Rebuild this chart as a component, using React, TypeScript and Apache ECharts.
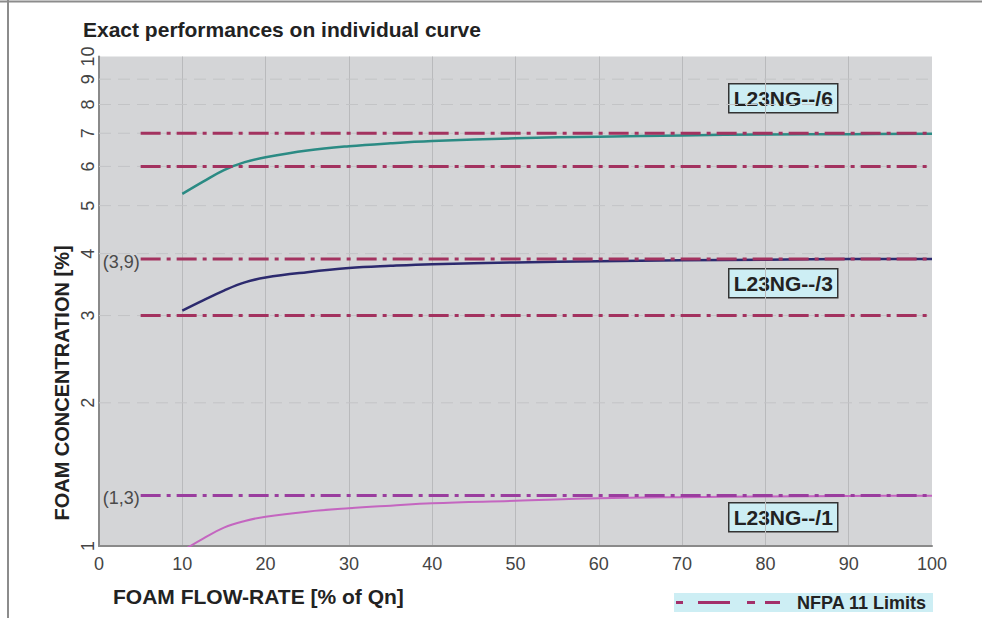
import React, { useEffect, useRef } from "react";
import * as echarts from "echarts";

// ---------- data ----------
const Y_TICKS = [1, 2, 3, 4, 5, 6, 7, 8, 9, 10];
const FLOW = [10, 12.5, 15, 17.5, 20, 25, 30, 35, 40, 50, 60, 70, 80, 90, 100];
const CONC_6 = [5.28, 5.59, 5.9, 6.12, 6.26, 6.46, 6.59, 6.68, 6.75, 6.84, 6.89, 6.93, 6.96, 6.97, 6.98];
const CONC_3 = [3.07, 3.22, 3.37, 3.5, 3.58, 3.67, 3.74, 3.78, 3.81, 3.84, 3.86, 3.88, 3.89, 3.9, 3.9];
const CONC_1 = [1.005, 1.064, 1.12, 1.155, 1.178, 1.206, 1.225, 1.24, 1.254, 1.268, 1.283, 1.29, 1.294, 1.297, 1.299];
const CURVE_NAMES = ["L23NG--/6", "L23NG--/3", "L23NG--/1"];
const LIMIT_LEVELS = [7, 6, 3.9, 3, 1.3];
const LIMIT_FROM = 5;
const LIMIT_TO = 100;
const LIMIT_TAGS = [
  { value: 3.9, text: "(3,9)" },
  { value: 1.3, text: "(1,3)" },
];
const Y_MIN = 1.028;
const Y_MAX = 10;

const FAMILY = "'Liberation Sans', Arial, Helvetica, sans-serif";

export default function App() {
  const ref = useRef<HTMLDivElement>(null);

  useEffect(() => {
    if (!ref.current) return;
    const chart = echarts.init(ref.current, undefined, { renderer: "svg" });

    const curveColors = ["#2b8b84", "#2c2a6e", "#c466c0"];
    const curveWidths = [2.5, 2.5, 2];
    const curves = [CONC_6, CONC_3, CONC_1].map((vals, i) => ({
      type: "line",
      name: CURVE_NAMES[i],
      data: FLOW.map((x, j) => [x, vals[j]]),
      symbol: "none",
      smooth: 0.4,
      clip: true,
      z: 4,
      lineStyle: { color: curveColors[i], width: curveWidths[i] },
    }));

    const limits = LIMIT_LEVELS.map((v) => ({
      type: "line",
      data: [
        [LIMIT_FROM, v],
        [LIMIT_TO, v],
      ],
      symbol: "none",
      z: 5,
      lineStyle: {
        color: v < 2 ? "#9a3d9e" : "#a3325f",
        width: 3,
        type: [20, 6, 4, 6],
      },
    }));

    const yGrid = {
      type: "custom",
      coordinateSystem: "cartesian2d",
      clip: false,
      silent: true,
      z: 1,
      data: Y_TICKS.filter((v) => v > 1 && v < 10).map((v) => [0, v]),
      encode: { x: 0, y: 1 },
      renderItem: (params: any, api: any) => {
        const v = api.value(1);
        const p = api.coord([0, v]);
        const q = api.coord([100, v]);
        return {
          type: "line",
          shape: { x1: p[0], y1: p[1], x2: q[0], y2: q[1] },
          style: { stroke: "#c3c4c6", lineWidth: 1, lineDash: [12, 7] },
        };
      },
    };

    const box = (text: string, y: number) => ({
      type: "group",
      left: 728,
      top: y,
      children: [
        {
          type: "rect",
          shape: { x: 0, y: 0, width: 109, height: 29 },
          style: { fill: "#cdeef4", stroke: "#333", lineWidth: 1.5 },
        },
        {
          type: "text",
          x: 54.5,
          y: 15,
          style: {
            text,
            fill: "#222",
            fontSize: 21,
            fontWeight: "bold",
            fontFamily: FAMILY,
            align: "center",
            verticalAlign: "middle",
          },
        },
      ],
    });

    const baseGraphic: any[] = [
      {
        type: "line",
        shape: { x1: 0, y1: 1.5, x2: 982, y2: 1.5 },
        style: { stroke: "#8c8c8c", lineWidth: 2 },
      },
      {
        type: "line",
        shape: { x1: 8, y1: 0, x2: 8, y2: 618 },
        style: { stroke: "#8c8c8c", lineWidth: 2 },
      },
      {
        type: "text",
        x: 83,
        y: 29,
        style: {
          text: "Exact performances on individual curve",
          fill: "#222",
          fontSize: 21,
          fontWeight: "bold",
          fontFamily: FAMILY,
          align: "left",
          verticalAlign: "middle",
        },
      },
      {
        type: "text",
        x: 62,
        y: 383,
        rotation: Math.PI / 2,
        style: {
          text: "FOAM CONCENTRATION [%]",
          fill: "#222",
          fontSize: 20,
          fontWeight: "bold",
          fontFamily: FAMILY,
          align: "center",
          verticalAlign: "middle",
        },
      },
      {
        type: "text",
        x: 113,
        y: 596,
        style: {
          text: "FOAM FLOW-RATE [% of Qn]",
          fill: "#222",
          fontSize: 21,
          fontWeight: "bold",
          fontFamily: FAMILY,
          align: "left",
          verticalAlign: "middle",
        },
      },
      {
        type: "rect",
        shape: { x: 674, y: 593, width: 259, height: 19 },
        style: { fill: "#cdeef4" },
      },
      {
        type: "line",
        shape: { x1: 676, y1: 602.5, x2: 683, y2: 602.5 },
        style: { stroke: "#a3306a", lineWidth: 3 },
      },
      {
        type: "line",
        shape: { x1: 698, y1: 602.5, x2: 730, y2: 602.5 },
        style: { stroke: "#a3306a", lineWidth: 3 },
      },
      {
        type: "line",
        shape: { x1: 747, y1: 602.5, x2: 755, y2: 602.5 },
        style: { stroke: "#a3306a", lineWidth: 3 },
      },
      {
        type: "line",
        shape: { x1: 765, y1: 602.5, x2: 780, y2: 602.5 },
        style: { stroke: "#a3306a", lineWidth: 3 },
      },
      {
        type: "text",
        x: 797,
        y: 603,
        style: {
          text: "NFPA 11 Limits",
          fill: "#222",
          fontSize: 18,
          fontWeight: "bold",
          fontFamily: FAMILY,
          align: "left",
          verticalAlign: "middle",
        },
      },
      box(CURVE_NAMES[0], 83),
      box(CURVE_NAMES[1], 268),
      box(CURVE_NAMES[2], 502),
    ];

    const option: any = {
      animation: false,
      backgroundColor: "#ffffff",
      grid: {
        left: 99,
        top: 56.5,
        width: 833,
        height: 489.5,
        show: true,
        backgroundColor: "#d4d5d7",
        borderWidth: 0,
      },
      xAxis: {
        type: "value",
        min: 0,
        max: 100,
        interval: 10,
        axisLine: { show: true, lineStyle: { color: "#8a8a8a", width: 2 } },
        axisTick: { show: false },
        axisLabel: {
          color: "#444",
          fontSize: 18,
          fontFamily: FAMILY,
          margin: 9,
        },
        splitLine: {
          show: true,
          showMinLine: false,
          showMaxLine: false,
          lineStyle: { color: "#b9babc", width: 1 },
        },
      },
      yAxis: {
        type: "log",
        logBase: 10,
        min: Y_MIN,
        max: Y_MAX,
        position: "right",
        axisLine: { show: true, lineStyle: { color: "#8a8a8a", width: 2 } },
        axisTick: { show: false },
        axisLabel: { show: false },
        splitLine: { show: false },
      },
      graphic: baseGraphic,
      series: [yGrid, ...limits, ...curves],
    };

    chart.setOption(option);

    // tick labels and limit tags placed through the chart's own scales
    const tickTexts = Y_TICKS.map((v) => {
      const p = chart.convertToPixel({ gridIndex: 0 }, [0, Math.max(v, Y_MIN)]) as number[];
      return {
        type: "text",
        x: p[0] - 11,
        y: p[1],
        rotation: Math.PI / 2,
        style: {
          text: String(v),
          fill: "#444",
          fontSize: 18,
          fontFamily: FAMILY,
          align: "center",
          verticalAlign: "middle",
        },
      };
    });
    const tagTexts = LIMIT_TAGS.map((t) => {
      const p = chart.convertToPixel({ gridIndex: 0 }, [LIMIT_FROM, t.value]) as number[];
      return {
        type: "text",
        x: p[0] - 1,
        y: p[1] + 3,
        z: 10,
        style: {
          text: t.text,
          fill: "#4a4a4a",
          fontSize: 18,
          fontFamily: FAMILY,
          align: "right",
          verticalAlign: "middle",
        },
      };
    });
    chart.setOption({ graphic: [...baseGraphic, ...tickTexts, ...tagTexts] });

    return () => chart.dispose();
  }, []);

  return (
    <div
      ref={ref}
      style={{ position: "absolute", left: 0, top: 0, width: 982, height: 618 }}
    />
  );
}
